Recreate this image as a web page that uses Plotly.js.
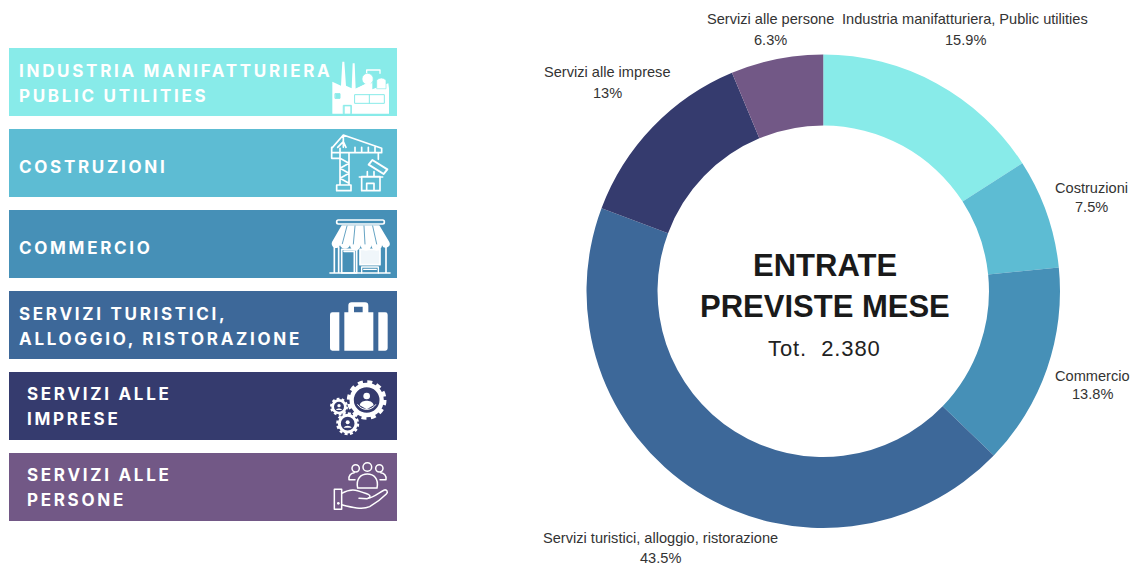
<!DOCTYPE html>
<html><head><meta charset="utf-8">
<script src="https://cdn.plot.ly/plotly-3.0.1.min.js"></script>
<style>html,body{margin:0;padding:0;background:#fff}</style>
</head><body>
<div id="chart" style="width:1143px;height:565px"></div>
<script>
const categories=["Industria manifatturiera, Public utilities","Costruzioni","Commercio","Servizi turistici, alloggio, ristorazione","Servizi alle imprese","Servizi alle persone"];
const shares=[15.9,7.5,13.8,43.5,13,6.3];
const colours=["#88ebe9","#5dbcd3","#4690b7","#3d6899","#353b6e","#725886"];
const cardLines=[["INDUSTRIA MANIFATTURIERA","PUBLIC UTILITIES"],["COSTRUZIONI"],["COMMERCIO"],["SERVIZI TURISTICI,","ALLOGGIO, RISTORAZIONE"],["SERVIZI ALLE","IMPRESE"],["SERVIZI ALLE","PERSONE"]];
const cardLineY=[[71,96],[167],[248],[314,339],[394,419],[475,500]];
const cardTextLeft=[17,17,17,17,25,25];
const cardTops=[48,129,210,291,372,453];
const labelCentreX=[965,1091.5,1092.5,660,607,771];
const labelLineY=[[19,40],[188,207],[376,394],[538,558],[72,93],[19,40]];
const centreLines=["ENTRATE","PREVISTE MESE","Tot.  2.380"];
const W=1143,H=565;
const px=x=>x/W, py=y=>1-y/H;
const svg=(b,h)=>"data:image/svg+xml,"+encodeURIComponent('<svg xmlns="http://www.w3.org/2000/svg" viewBox="0 0 210 '+h+'" width="420" height="'+(h*2)+'" fill="none" stroke="#fff" stroke-width="4" stroke-linejoin="round" stroke-linecap="round">'+b+'</svg>');
const icons=[
 ['<path fill="#fff" stroke="none" d="M22 176V80L48 92 52 20h6l5 72 17 8 3-75h6l3 78 50-28V103l48-18 2 15V176Z"/><path d="M125 72V45h40v10" /><circle cx="128" cy="72" r="17" fill="#fff" stroke="#88ebe9" stroke-width="2"/><path d="M155 100V75q14-12 28 0v25Z" fill="#fff" stroke="#88ebe9" stroke-width="2"/><path fill="#fff" stroke="none" d="M82 105 137 80v25h-55Z"/><g stroke="#88ebe9" stroke-width="3" fill="#88ebe9"><path d="M31 116h14v14H31ZM56 151h23v25H56Z"/><path fill="none" d="M90 119h88v26H90ZM133 119v26"/></g><path fill="#fff" stroke="none" d="M59 154h17v22H59Z"/>',186,325,55],
 ['<path stroke-width="5" d="M20 55V85h25V55M20 55 55 15 170 55V68H20V52ZM55 15V52M38 52 55 35l8 17M45 68h27M45 68V165M72 68V165M45 85 72 100 45 115 72 130 45 145 72 160M35 165h43v17H35ZM160 68V88M90 52v16M110 52v16M130 52v16M150 52v16"/><path stroke-width="6" d="M142 90 187 118 176 132 131 104Z"/><path stroke-width="5" d="M110 140h55v42H110ZM125 182V160h22v22M103 141h70M127 125v15M147 125v15"/>',198,325,130],
 ['<rect x="35" y="24" width="143" height="12" rx="5" stroke-width="5"/><path fill="#fff" stroke="none" d="M50 40h113l30 50a12 12 0 0 1-22 10 16 16 0 0 1-32 0 16 16 0 0 1-32 0 16 16 0 0 1-32 0 16 16 0 0 1-30 0 12 12 0 0 1-24-10Z"/><path stroke="#4690b7" stroke-width="2.500" d="M66 42 52 95M90 42 85 96M117 42l3 54M143 42 155 96"/><path stroke-width="5" d="M28 105V183M41 105V183M195 183H15M183 105V183"/><path stroke-width="5" d="M50 112h45v71H50ZM57 118h31v65"/><path d="M105 112h60v46h-60Z" fill="#fff" fill-opacity=".92" stroke-width="5"/><path stroke-width="4" d="M110 183v-18h50v18M116 172h38"/>',198,325,212],
 ['<path fill="#fff" stroke="none" d="M22 46h21v115H22a7 7 0 0 1-7-7V53a7 7 0 0 1 7-7ZM160 46h21a7 7 0 0 1 7 7v101a7 7 0 0 1-7 7h-21Z"/><path fill="#fff" fill-rule="evenodd" stroke="none" d="M58 46H70V26a10 10 0 0 1 10-10h40a10 10 0 0 1 10 10V46h15V161H58ZM87 46H113V29H87Z"/>',168,325,297],
 ['<circle cx="125" cy="72" r="45" stroke-width="13"/><circle cx="125" cy="72" r="54" stroke-width="11" stroke-dasharray="15 13.300" stroke-linecap="butt"/><circle cx="125" cy="60" r="10" fill="#fff" stroke="none"/><path fill="#fff" stroke="none" d="M104 88c2-12 14-14 21-14s19 2 21 14l-21 12Z"/><path d="M98 86a32 32 0 0 0 54 0" stroke-width="3"/><circle cx="42" cy="92" r="19" stroke-width="8"/><circle cx="42" cy="92" r="24" stroke-width="6" stroke-dasharray="8 7.100" stroke-linecap="butt"/><circle cx="42" cy="89" r="5" fill="#fff" stroke="none"/><path fill="#fff" stroke="none" d="M33 102c2-6 16-6 18 0Z"/><circle cx="68" cy="143" r="25" stroke-width="9"/><circle cx="68" cy="143" r="31" stroke-width="7" stroke-dasharray="9 7.200" stroke-linecap="butt"/><circle cx="68" cy="139" r="6" fill="#fff" stroke="none"/><path fill="#fff" stroke="none" d="M56 155c3-8 21-8 24 0Z"/>',192,325,376],
 ['<g stroke-width="4.500"><circle cx="92" cy="37" r="11"/><circle cx="127" cy="33" r="13"/><circle cx="163" cy="37" r="11"/><path d="M72 71c-2-12 6-20 16-21M183 71c2-12-6-20-16-21M72 71H90M183 71H165"/><path d="M98 96c-6-28 10-42 29-42s35 14 29 42Z"/><path d="M28 100h22v60H28Z"/><path d="M50 112c14-8 30-14 48-8 10 3 18 6 32 11 8 4 6 12-4 13l-24-1"/><path d="M130 126c14 0 34-18 48-24 8-2 12 6 6 12-14 14-36 30-50 38-22 10-54 2-84-6"/></g><circle cx="40" cy="142" r="4" fill="#fff" stroke="none"/>',192,325,456]
];
const annotations=[];
cardLines.forEach((lines,i)=>lines.forEach((t,k)=>annotations.push({text:t,xref:"paper",yref:"paper",x:px(cardTextLeft[i]),y:py(cardLineY[i][k]),xanchor:"left",yanchor:"middle",align:"left",showarrow:false,font:{family:"Inter, Liberation Sans",size:17,color:"#fff",weight:700}})));
const cardCount=annotations.length;
annotations.push(
 {text:centreLines[0],xref:"paper",yref:"paper",x:px(825),y:py(265),xanchor:"center",yanchor:"middle",showarrow:false,font:{family:"Liberation Sans",size:31,color:"#1a1a1a",weight:700}},
 {text:centreLines[1],xref:"paper",yref:"paper",x:px(825),y:py(306),xanchor:"center",yanchor:"middle",showarrow:false,font:{family:"Liberation Sans",size:31,color:"#1a1a1a",weight:700}},
 {text:centreLines[2],xref:"paper",yref:"paper",x:px(824),y:py(348),xanchor:"center",yanchor:"middle",showarrow:false,font:{family:"Liberation Sans",size:22,color:"#222"}}
);
categories.forEach((c,i)=>{
 [c,shares[i]+"%"].forEach((t,k)=>annotations.push({text:t,xref:"paper",yref:"paper",x:px(labelCentreX[i]),y:py(labelLineY[i][k]),xanchor:"center",yanchor:"middle",showarrow:false,font:{family:"Liberation Sans",size:14.6,color:"#333"}}));
});
const style=document.createElement("style");
style.textContent=Array.from({length:cardCount},(_,i)=>'.annotation[data-index="'+i+'"] text').join(",")+"{letter-spacing:2.7px}"+
 '.annotation[data-index="'+(cardCount+2)+'"] text{letter-spacing:.9px}';
document.head.appendChild(style);
const data=[{type:"pie",labels:categories,values:shares,sort:false,direction:"clockwise",rotation:0,hole:0.7,
 marker:{colors:colours},textinfo:"none",hoverinfo:"label+value",
 domain:{x:[px(586.5),px(1060)],y:[py(528),py(54.5)]}}];
const layout={width:W,height:H,margin:{l:0,r:0,t:0,b:0},showlegend:false,paper_bgcolor:"#fff",
 shapes:cardTops.map((t,i)=>({type:"rect",xref:"paper",yref:"paper",x0:px(9),x1:px(397),y0:py(t),y1:py(t+68),fillcolor:colours[i],line:{width:0},layer:"below"})),
 images:icons.map(([b,h,ox,oy])=>({source:svg(b,h),xref:"paper",yref:"paper",x:px(ox),y:py(oy),sizex:70/W,sizey:(h/3)/H,xanchor:"left",yanchor:"top",sizing:"stretch",layer:"above"})),
 annotations};
Plotly.newPlot("chart",data,layout,{displayModeBar:false});
</script></body></html>
